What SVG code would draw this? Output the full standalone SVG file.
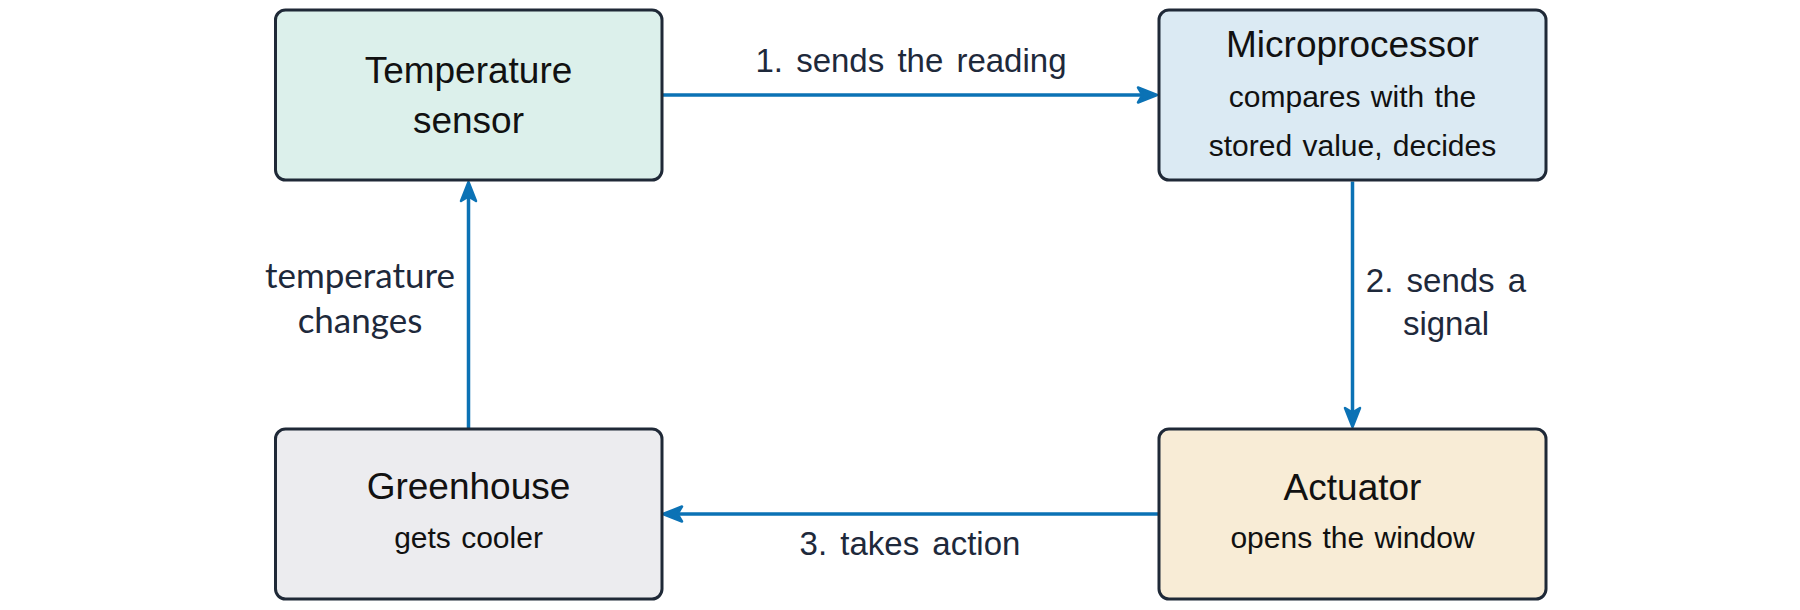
<svg xmlns="http://www.w3.org/2000/svg" width="1800" height="610" viewBox="0 0 1800 610">
<style>
.box{stroke:#1f2937;stroke-width:3}
.title{font-family:"Liberation Sans",Arial,sans-serif;font-size:37px;fill:#111;text-anchor:middle}
.sub{font-family:"Liberation Sans",Arial,sans-serif;font-size:30px;fill:#111;text-anchor:middle;word-spacing:2px}
.lbl{font-family:"Liberation Sans",Arial,sans-serif;font-size:33px;fill:#1e293b;text-anchor:middle;word-spacing:4px}
.lato{font-family:Lato,"Liberation Sans",sans-serif;font-size:35px;fill:#1e293b;text-anchor:middle}
.edge{stroke:#0b72b5;stroke-width:3.5;fill:none;marker-end:url(#ah)}
</style>
<defs>
<marker id="ah" markerUnits="userSpaceOnUse" viewBox="-24 -12 28 24" markerWidth="28" markerHeight="24" refX="-12" refY="0" orient="auto">
<path d="M0,0 L-19,-7.5 L-14.5,0 L-19,7.5 Z" fill="#0b72b5" stroke="#0b72b5" stroke-width="2.5" stroke-linejoin="round"/>
</marker>
</defs>
<rect width="1800" height="610" fill="#fff"/>
<g id="connectors">
<line class="edge" x1="663" y1="95" x2="1145" y2="95"/>
<line class="edge" x1="1352.5" y1="181.5" x2="1352.5" y2="415"/>
<line class="edge" x1="1158" y1="514" x2="675" y2="514"/>
<line class="edge" x1="468.5" y1="428" x2="468.5" y2="194"/>
<text class="lbl" x="911" y="72">1. sends the reading</text>
<text class="lbl" x="1446" y="292">2. sends a</text>
<text class="lbl" x="1446" y="335">signal</text>
<text class="lbl" x="910" y="555">3. takes action</text>
<text class="lato" x="360" y="288">temperature</text>
<text class="lato" x="360" y="333">changes</text>
</g>
<g id="sensor">
<rect class="box" x="275.5" y="10" width="386.5" height="170" rx="10" fill="#dcf0eb"/>
<text class="title" x="468.5" y="83">Temperature</text>
<text class="title" x="468.5" y="133">sensor</text>
</g>
<g id="microprocessor">
<rect class="box" x="1159" y="10" width="387" height="170" rx="10" fill="#dbeaf3"/>
<text class="title" x="1352.5" y="57">Microprocessor</text>
<text class="sub" x="1352.5" y="107">compares with the</text>
<text class="sub" x="1352.5" y="156">stored value, decides</text>
</g>
<g id="greenhouse">
<rect class="box" x="275.5" y="429" width="386.5" height="170" rx="10" fill="#ececef"/>
<text class="title" x="468.5" y="499">Greenhouse</text>
<text class="sub" x="468.5" y="548">gets cooler</text>
</g>
<g id="actuator">
<rect class="box" x="1159" y="429" width="387" height="170" rx="10" fill="#f8ecd6"/>
<text class="title" x="1352.5" y="500">Actuator</text>
<text class="sub" x="1352.5" y="548">opens the window</text>
</g>
</svg>
